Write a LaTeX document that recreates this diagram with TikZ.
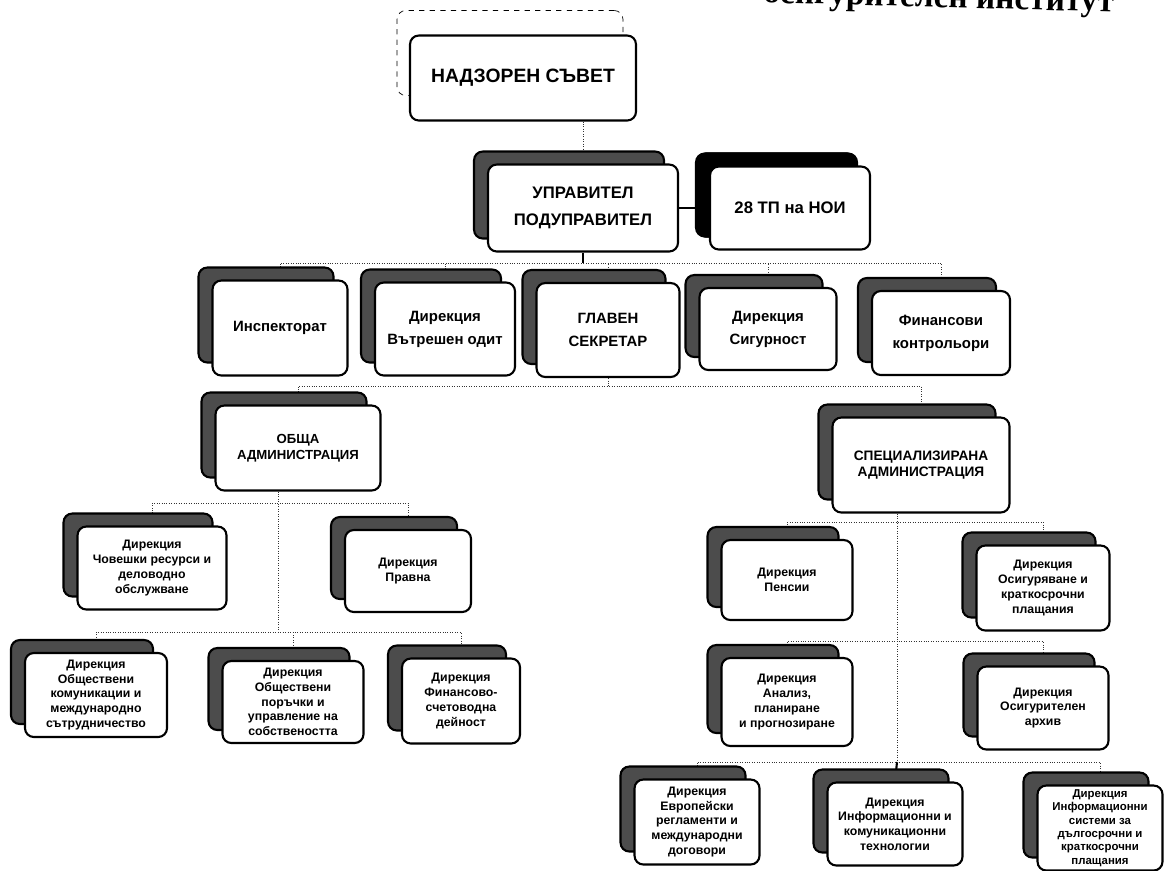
\documentclass[tikz,border=0pt]{standalone}
\usepackage{fontspec}
\setmainfont{Liberation Sans}
\newfontfamily\zaglfont{Liberation Serif}
\usetikzlibrary{shadows,backgrounds,positioning}

\begin{document}
\begin{tikzpicture}[x=0.02cm, y=-0.02cm,
    osnova/.style={draw, line width=1.2pt, rounded corners=5pt, fill=white, align=center, inner sep=1pt,
      font=\bfseries\fontsize{8.5}{13}\selectfont},
    kutia/.style={osnova, copy shadow={opacity=1, shadow xshift=-0.28cm, shadow yshift=0.26cm, fill=black!70, draw=black, line width=1.2pt}},
    glavna/.style={osnova, copy shadow={opacity=1, shadow xshift=-0.26cm, shadow yshift=0.5cm, fill=white, draw=black, thin, dashed}},
    malka/.style={kutia, font=\bfseries\fontsize{7}{8.4}\selectfont},
    vrazka/.style={densely dotted, thin, black!80},
    platna/.style={line width=1.2pt}
  ]
  \useasboundingbox (0,0) rectangle (1169,870);

  % zaglavie, otrjazano ot gornija rab
  \node[font=\zaglfont\bfseries\fontsize{19}{21}\selectfont, anchor=base east, rotate=-1.5] (zaglavie) at (1120,12) {осигурителен институт};

  % rakovodstvo
  \node[glavna, minimum width=4.52cm, minimum height=1.7cm, font=\bfseries\fontsize{11}{13}\selectfont] (nadzor) at (523,78) {НАДЗОРЕН СЪВЕТ};
  \node[kutia, minimum width=3.8cm, minimum height=1.74cm, font=\bfseries\fontsize{9.5}{15}\selectfont] (upr) at (583,208) {УПРАВИТЕЛ\\ПОДУПРАВИТЕЛ};
  \node[kutia, minimum width=3.2cm, minimum height=1.66cm, font=\bfseries\fontsize{9.5}{12}\selectfont,
    copy shadow={opacity=1, shadow xshift=-0.26cm, shadow yshift=0.26cm, fill=black, draw=black}] (tp) at (790,208) {28 ТП на НОИ};

  % vtori red
  \node[kutia, minimum width=2.7cm, minimum height=1.9cm] (insp) at (280,328) {Инспекторат};
  \node[kutia, minimum width=2.8cm, minimum height=1.86cm] (odit) at (445,329) {Дирекция\\Вътрешен одит};
  \node[kutia, minimum width=2.86cm, minimum height=1.88cm] (glav) at (608,330) {ГЛАВЕН\\СЕКРЕТАР};
  \node[kutia, minimum width=2.74cm, minimum height=1.64cm] (sig) at (768,329) {Дирекция\\Сигурност};
  \node[kutia, minimum width=2.76cm, minimum height=1.68cm] (fin) at (941,333) {Финансови\\контрольори};

  % administracii
  \node[kutia, minimum width=3.3cm, minimum height=1.7cm, font=\bfseries\fontsize{7.5}{9}\selectfont] (obsta) at (298,448) {ОБЩА\\АДМИНИСТРАЦИЯ};
  \node[kutia, minimum width=3.54cm, minimum height=1.9cm, font=\bfseries\fontsize{7.8}{9.2}\selectfont] (spec) at (921,465) {СПЕЦИАЛИЗИРАНА\\АДМИНИСТРАЦИЯ};

  % obshta administracija
  \node[malka, minimum width=2.98cm, minimum height=1.66cm] (chr) at (152,568) {Дирекция\\Човешки ресурси и\\деловодно\\обслужване};
  \node[malka, minimum width=2.52cm, minimum height=1.64cm] (pravna) at (408,571) {Дирекция\\Правна};
  \node[malka, minimum width=2.84cm, minimum height=1.68cm] (komun) at (96,695) {Дирекция\\Обществени\\комуникации и\\международно\\сътрудничество};
  \node[malka, minimum width=2.82cm, minimum height=1.64cm] (poruch) at (293,702) {Дирекция\\Обществени\\поръчки и\\управление на\\собствеността};
  \node[malka, minimum width=2.36cm, minimum height=1.7cm] (fsd) at (461,701) {Дирекция\\Финансово-\\счетоводна\\дейност};

  % specializirana administracija
  \node[malka, minimum width=2.62cm, minimum height=1.6cm] (pensii) at (787,580) {Дирекция\\Пенсии};
  \node[malka, minimum width=2.66cm, minimum height=1.7cm] (osig) at (1043,588) {Дирекция\\Осигуряване и\\краткосрочни\\плащания};
  \node[malka, minimum width=2.62cm, minimum height=1.76cm] (analiz) at (787,702) {Дирекция\\Анализ,\\планиране\\и прогнозиране};
  \node[malka, minimum width=2.62cm, minimum height=1.66cm] (arhiv) at (1043,708) {Дирекция\\Осигурителен\\архив};
  \node[malka, minimum width=2.5cm, minimum height=1.7cm] (evro) at (697,822) {Дирекция\\Европейски\\регламенти и\\международни\\договори};
  \node[malka, minimum width=2.7cm, minimum height=1.66cm] (ikt) at (895,824) {Дирекция\\Информационни и\\комуникационни\\технологии};
  \node[malka, minimum width=2.5cm, minimum height=1.7cm, font=\bfseries\fontsize{6.5}{7.6}\selectfont] (infsis) at (1100,828) {Дирекция\\Информационни\\системи за\\дългосрочни и\\краткосрочни\\плащания};

  % vrazki
  \begin{scope}[on background layer]
    \coordinate (bus1) at (583,263);
    \coordinate (bus2) at (608,386);
    \coordinate (lkol) at (278,503);
    \coordinate (lred) at (278,632);
    \coordinate (dkol) at (897,522);
    \coordinate (dred) at (897,641);
    \coordinate (dniz) at (897,762);

    \draw[vrazka] (upr.north |- nadzor.south) -- (upr.north);
    \draw[platna] (upr) -- (tp);
    \draw[platna] (upr.south) -- (bus1);
    \draw[vrazka] (insp.north) |- (bus1) -| (fin.north);
    \draw[vrazka] (odit.north) -- (odit.north |- bus1);
    \draw[vrazka] (glav.north) -- (glav.north |- bus1);
    \draw[vrazka] (sig.north) -- (sig.north |- bus1);

    \draw[vrazka] (glav.south) -- (bus2);
    \draw[vrazka] (obsta.north) |- (bus2) -| (spec.north);

    \draw[vrazka] (obsta.south -| lkol) -- (lred);
    \draw[vrazka] (chr.north) |- (lkol) -| (pravna.north);
    \draw[vrazka] (komun.north) |- (lred) -| (fsd.north);
    \draw[vrazka] (poruch.north) -- (poruch.north |- lred);

    \draw[vrazka] (spec.south -| dkol) -- (dniz);
    \draw[platna] (dniz) -- (ikt.north);
    \draw[vrazka] (pensii.north) |- (dkol) -| (osig.north);
    \draw[vrazka] (analiz.north) |- (dred) -| (arhiv.north);
    \draw[vrazka] (evro.north) |- (dniz) -| (infsis.north);
  \end{scope}
\end{tikzpicture}
\end{document}
